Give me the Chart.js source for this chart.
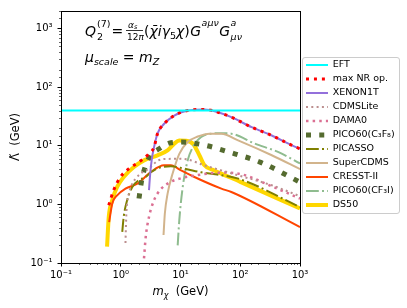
<!DOCTYPE html>
<html>
<head>
<meta charset="utf-8">
<script src="https://cdn.jsdelivr.net/npm/chart.js@4.4.0/dist/chart.umd.min.js"></script>
<style>
  html, body { margin: 0; padding: 0; background: #fff; }
</style>
</head>
<body>
<canvas id="chart" width="407" height="308"></canvas>
<script>
// tick labels for the log axes (powers of ten)
const tickLabels = ['10⁻¹', '10⁰', '10¹', '10²', '10³'];

// m_chi (GeV) / Lambda (GeV)
const eftX = [0.1, 1000];
const eftY = [40, 40];

const maxNrX = [0.63, 0.76, 0.99, 1.37, 2.02, 2.97, 3.61, 4.12, 5.33, 7.86, 13.2, 25.2, 42.5, 71.1, 155, 337, 733, 1000];
const maxNrY = [0.97, 1.74, 2.94, 4.08, 5.28, 7.34, 9.5, 16.1, 23.8, 32.9, 40.0, 41.8, 37.4, 30.8, 20.8, 15.0, 10.2, 8.9];

const xenonX = [2.97, 3.1, 3.3, 3.61, 4.12, 5.33, 7.86, 13.2, 25.2, 42.5, 71.1, 155, 337, 733, 1000];
const xenonY = [1.75, 3.2, 5.8, 9.5, 16.1, 23.8, 32.9, 40.0, 41.8, 37.4, 30.8, 20.8, 15.0, 10.2, 8.9];

const cdmsLiteX = [1.20, 1.22, 1.25, 1.37, 1.56, 1.77, 2.15, 2.97, 4.12, 6.08, 9.0, 12.4, 25.2, 92, 337, 1000];
const cdmsLiteY = [0.22, 0.41, 0.80, 1.53, 2.26, 2.75, 3.36, 4.08, 5.53, 5.98, 6.0, 5.9, 4.64, 3.14, 2.12, 1.38];

const damaX = [2.45, 2.62, 2.97, 3.61, 4.69, 6.4, 10.2, 18.3, 32.7, 55, 105, 337, 1000];
const damaY = [0.12, 0.28, 0.61, 1.18, 1.82, 2.34, 2.79, 3.14, 3.4, 3.5, 3.27, 2.04, 1.26];

const picoC3F8X = [2.02, 2.15, 2.30, 2.62, 3.18, 4.39, 6.47, 10.2, 23.7, 81, 214, 1000];
const picoC3F8Y = [1.26, 1.99, 2.94, 4.64, 6.9, 8.9, 11.1, 11.6, 10.4, 7.3, 5.28, 2.4];

const picassoX = [1.06, 1.12, 1.28, 1.56, 2.0, 2.62, 3.18, 4.3, 6.9, 11.5, 22.2, 93, 1000];
const picassoY = [0.34, 0.61, 1.18, 1.99, 2.58, 2.94, 3.53, 4.2, 4.47, 4.08, 3.53, 2.75, 0.9];

const superCdmsX = [5.2, 5.47, 6.08, 7.38, 9.55, 13.2, 19.5, 30.6, 48.3, 92, 337, 1000];
const superCdmsY = [0.30, 0.70, 1.53, 3.36, 7.3, 11.6, 14.4, 16.1, 16.1, 12.4, 6.9, 4.0];

const cresstX = [0.64, 0.72, 0.87, 1.20, 1.9, 3.18, 5.3, 6.9, 10.2, 17.1, 48.3, 71, 1000];
const cresstY = [0.50, 1.03, 1.43, 1.86, 2.26, 3.57, 4.64, 4.64, 3.82, 2.94, 1.86, 1.63, 0.41];

const picoCF3IX = [8.97, 9.55, 10.9, 13.2, 16.1, 22.2, 32.7, 48.3, 71, 176, 437, 1000];
const picoCF3IY = [0.20, 0.54, 1.99, 5.65, 9.5, 14.1, 16.1, 16.4, 16.1, 10.9, 7.8, 5.0];

const ds50X = [0.59, 0.63, 0.72, 0.87, 1.12, 1.66, 2.45, 4.12, 6.08, 7.86, 9.5, 12.5, 16.5, 20.7, 25.2, 37, 100, 1000];
const ds50Y = [0.19, 0.61, 1.18, 1.99, 2.94, 4.35, 5.65, 6.87, 8.36, 10.9, 12.3, 12.2, 10.6, 6.9, 4.64, 3.8, 2.43, 0.85];

const FONT = 'DejaVu Sans';
const dot = w => [w, w * 1.65];
const dashDot = w => [w * 6.4, w * 1.6, w, w * 1.6];

function pts(xs, ys) {
    return xs.map((x, i) => ({ x: x, y: ys[i] }));
}

function line(label, xs, ys, color, width, dash) {
    return {
        label: label,
        data: pts(xs, ys),
        borderColor: color,
        backgroundColor: color,
        borderWidth: width,
        borderDash: dash || [],
        pointRadius: 0,
        pointHoverRadius: 0,
        fill: false,
        cubicInterpolationMode: 'monotone'
    };
}

function isPow10(v) {
    const l = Math.log10(v);
    return Math.abs(l - Math.round(l)) < 1e-6;
}

// draws a bit of mathtext-like text, returns width
function txt(ctx, s, x, y, size, italic) {
    ctx.font = (italic ? 'italic ' : '') + size + 'px "' + FONT + '"';
    ctx.fillText(s, x, y);
    return ctx.measureText(s).width;
}

// where the legend entries start (left edge / top of first row)
const LEGEND_X = 306;
const LEGEND_Y = 60.2;

const framePlugin = {
    id: 'frame',
    afterLayout(chart) {
        const lg = chart.legend;
        const pad = lg.options.labels.padding;
        const sx = LEGEND_X - (lg.left + pad);
        const sy = LEGEND_Y - (lg.top + pad);
        lg.left += sx; lg.right += sx;
        lg.top += sy; lg.bottom += sy;
    },
    beforeDraw(chart) {
        const ctx = chart.ctx;
        ctx.save();
        ctx.fillStyle = '#fff';
        ctx.fillRect(0, 0, chart.width, chart.height);
        // legend box
        const hb = chart.legend.legendHitBoxes;
        if (hb && hb.length) {
            let l = Infinity, t = Infinity, r = -Infinity, b = -Infinity;
            hb.forEach(h => {
                l = Math.min(l, h.left); t = Math.min(t, h.top);
                r = Math.max(r, h.left + h.width); b = Math.max(b, h.top + h.height);
            });
            l = Math.round(l - 4) + 0.5; t = Math.round(t - 3.5) + 0.5;
            r = Math.round(r + 4) + 0.5; b = Math.round(b + 3.5) + 0.5;
            ctx.beginPath();
            ctx.roundRect(l, t, r - l, b - t, 2.5);
            ctx.fillStyle = 'rgba(255,255,255,0.8)';
            ctx.fill();
            ctx.strokeStyle = '#cccccc';
            ctx.lineWidth = 1;
            ctx.stroke();
        }
        ctx.restore();
    },
    afterDraw(chart) {
        const ctx = chart.ctx, a = chart.chartArea;
        const xs = chart.scales.x, ys = chart.scales.y;
        ctx.save();
        ctx.strokeStyle = '#000';
        // minor ticks
        ctx.lineWidth = 0.6;
        ctx.beginPath();
        xs.ticks.forEach(t => {
            if (isPow10(t.value)) return;
            const p = Math.round(xs.getPixelForValue(t.value)) + 0.5;
            ctx.moveTo(p, a.bottom); ctx.lineTo(p, a.bottom + 2);
        });
        ys.ticks.forEach(t => {
            if (isPow10(t.value)) return;
            const p = Math.round(ys.getPixelForValue(t.value)) + 0.5;
            ctx.moveTo(a.left, p); ctx.lineTo(a.left - 2, p);
        });
        ctx.stroke();
        // spines
        ctx.lineWidth = 1;
        ctx.strokeRect(Math.round(a.left) + 0.5, Math.round(a.top) + 0.5,
            Math.round(a.right - a.left), Math.round(a.bottom - a.top));

        ctx.fillStyle = '#000';
        ctx.textBaseline = 'alphabetic';
        // x axis title: m_chi  (GeV)
        const cx = (a.left + a.right) / 2;
        ctx.font = 'italic 11.5px "' + FONT + '"';
        const wm = ctx.measureText('m').width;
        ctx.font = 'italic 8px "' + FONT + '"';
        const wc = ctx.measureText('χ').width;
        ctx.font = '11.5px "' + FONT + '"';
        const wg = ctx.measureText('  (GeV)').width;
        let x = cx - (wm + wc + wg) / 2;
        const by = 295;
        x += txt(ctx, 'm', x, by, 11.5, true);
        x += txt(ctx, 'χ', x, by + 2.5, 8, true);
        txt(ctx, '  (GeV)', x, by, 11.5, false);

        // annotation line 1
        const b1 = 36;
        let qx = 85;
        qx += txt(ctx, 'Q', qx, b1, 14, true) + 1;
        txt(ctx, '(7)', qx, b1 - 9, 9.5, false);
        txt(ctx, '2', qx, b1 + 4, 9.5, false);
        txt(ctx, '=', 111.5, b1, 14, false);
        let fx = 128;
        fx += txt(ctx, 'α', fx, 27.5, 9, true);
        txt(ctx, 's', fx, 29, 6.5, true);
        ctx.fillRect(126, 30, 17, 0.8);
        let dx = 127;
        dx += txt(ctx, '12', dx, 39.5, 9, false);
        txt(ctx, 'π', dx, 39.5, 9, true);
        let px = 144;
        px += txt(ctx, '(', px, b1, 14, false);
        px += txt(ctx, 'χ̄', px, b1, 14, true);
        px += txt(ctx, 'i', px, b1, 14, true);
        px += txt(ctx, 'γ', px, b1, 14, true);
        px += txt(ctx, '5', px, b1 + 3, 9.5, false);
        px += txt(ctx, 'χ', px, b1, 14, true);
        px += txt(ctx, ')', px, b1, 14, false);
        px += 0.5;
        px += txt(ctx, 'G', px, b1, 14, true);
        px += txt(ctx, 'aμν', px + 0.5, b1 - 10, 9.5, true) + 1;
        px += txt(ctx, 'G', px, b1, 14, true);
        txt(ctx, 'a', px + 0.5, b1 - 10, 9.5, true);
        txt(ctx, 'μν', px + 0.5, b1 + 4, 9.5, true);

        // annotation line 2
        const b2 = 62;
        let mx = 85;
        mx += txt(ctx, 'μ', mx, b2, 14, true);
        mx += txt(ctx, 'scale', mx, b2 + 3, 9.5, true);
        mx += txt(ctx, ' = ', mx, b2, 14, false);
        mx += txt(ctx, 'm', mx, b2, 14, true);
        txt(ctx, 'Z', mx, b2 + 3, 9.5, true);
        ctx.restore();
    }
};

const datasets = [
    line('EFT', eftX, eftY, '#00ffff', 2),
    line('max NR op.', maxNrX, maxNrY, '#ff0000', 3, dot(3)),
    line('XENON1T', xenonX, xenonY, '#9370db', 2),
    line('CDMSLite', cdmsLiteX, cdmsLiteY, '#bc8f8f', 2, dot(2)),
    line('DAMA0', damaX, damaY, '#db7093', 2.5, dot(2.5)),
    line('PICO60(C₃F₈)', picoC3F8X, picoC3F8Y, '#556b2f', 5, dot(5)),
    line('PICASSO', picassoX, picassoY, '#808000', 2, dashDot(2)),
    line('SuperCDMS', superCdmsX, superCdmsY, '#d2b48c', 2),
    line('CRESST-II', cresstX, cresstY, '#ff4500', 2),
    line('PICO60(CF₃I)', picoCF3IX, picoCF3IY, '#8fbc8f', 2, dashDot(2)),
    line('DS50', ds50X, ds50Y, '#ffd700', 4)
];

const axisTicks = {
    autoSkip: false,
    maxRotation: 0,
    color: '#000',
    font: { family: FONT, size: 10 },
    callback: v => isPow10(v) ? tickLabels[Math.round(Math.log10(v)) + 1] : ''
};
const axisGrid = {
    drawOnChartArea: false,
    tickLength: 3.5,
    tickWidth: 1,
    tickColor: c => (c.tick && isPow10(c.tick.value)) ? '#000' : 'rgba(0,0,0,0)'
};

new Chart(document.getElementById('chart'), {
    type: 'line',
    data: { datasets: datasets },
    options: {
        responsive: false,
        animation: false,
        events: [],
        layout: { padding: { left: 0, top: 10, right: 7, bottom: 0 } },
        scales: {
            x: {
                type: 'logarithmic',
                min: 0.1,
                max: 1000,
                border: { display: false },
                grid: axisGrid,
                ticks: Object.assign({ padding: 3 }, axisTicks),
                afterFit: s => { s.height = 45; }
            },
            y: {
                type: 'logarithmic',
                min: 0.1,
                max: 2000,
                border: { display: false },
                grid: axisGrid,
                ticks: Object.assign({ padding: 5 }, axisTicks),
                title: {
                    display: true,
                    text: 'Λ̃  (GeV)',
                    color: '#000',
                    font: { family: FONT, size: 11.5 },
                    padding: { top: 9, bottom: 0 }
                },
                afterFit: s => { s.width = 61; }
            }
        },
        plugins: {
            tooltip: { enabled: false },
            legend: {
                position: 'right',
                align: 'start',
                labels: {
                    usePointStyle: true,
                    pointStyleWidth: 22,
                    boxHeight: 9.5,
                    padding: 4.5,
                    color: '#000',
                    font: { family: FONT, size: 9.5 },
                    generateLabels: chart => chart.data.datasets.map((d, i) => ({
                        text: d.label,
                        strokeStyle: d.borderColor,
                        fillStyle: d.borderColor,
                        lineWidth: d.borderWidth,
                        lineDash: d.borderDash,
                        lineCap: 'butt',
                        pointStyle: 'line',
                        fontColor: '#000',
                        hidden: false,
                        datasetIndex: i
                    }))
                }
            }
        }
    },
    plugins: [framePlugin]
});
</script>
</body>
</html>
